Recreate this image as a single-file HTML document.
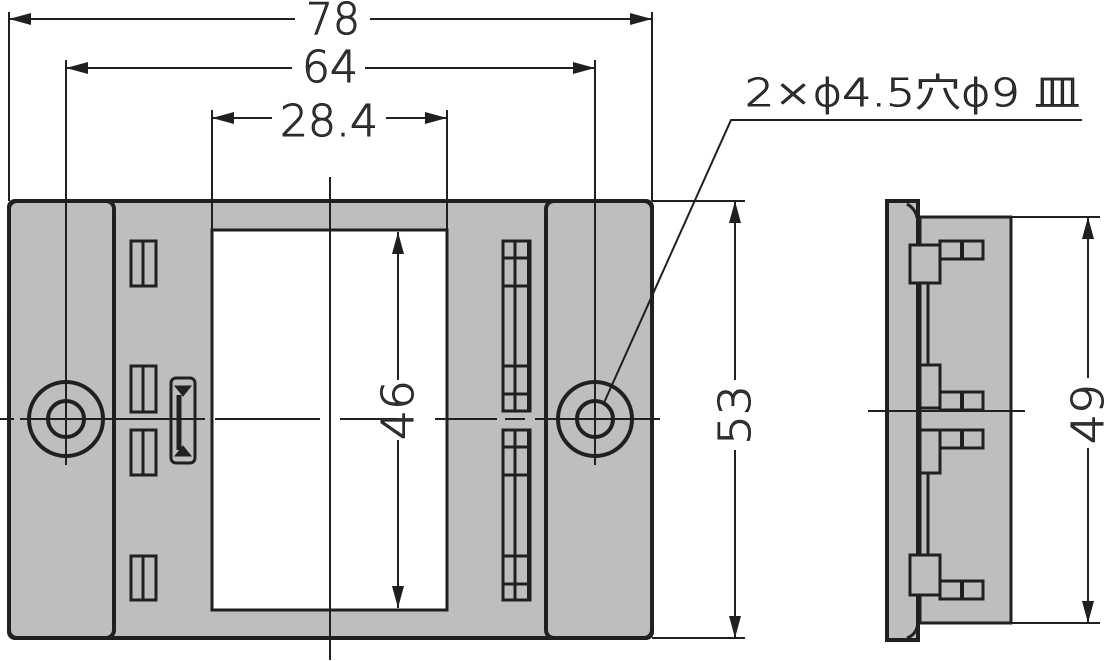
<!DOCTYPE html>
<html><head><meta charset="utf-8"><style>html,body{margin:0;padding:0;background:#fff}svg{display:block}</style></head>
<body>
<svg width="1111" height="661" viewBox="0 0 1111 661" xmlns="http://www.w3.org/2000/svg" font-family="Liberation Sans, sans-serif">
<defs>
<marker id="a" viewBox="0 0 22 12" refX="22" refY="6" markerWidth="22" markerHeight="12" markerUnits="userSpaceOnUse" orient="auto-start-reverse"><path d="M0,0 L22,6 L0,12 Z" fill="#231f20"/></marker>
</defs>
<g stroke="#231f20" fill="none">
<rect x="9" y="201" width="643" height="437" fill="#bcbec0" stroke-width="4" rx="6"/>
<rect x="9" y="201" width="105" height="437" rx="8" stroke-width="4"/>
<rect x="546" y="201" width="106" height="437" rx="8" stroke-width="4"/>
<rect x="212" y="230" width="235" height="380" fill="#fff" stroke-width="3"/>
<g stroke-width="3" fill="#bcbec0">
<rect x="131" y="241" width="25" height="45"/><line x1="143" y1="241" x2="143" y2="286"/>
<rect x="131" y="366" width="25" height="46"/><line x1="143" y1="366" x2="143" y2="412"/>
<rect x="131" y="430" width="25" height="45"/><line x1="143" y1="430" x2="143" y2="475"/>
<rect x="131" y="556" width="25" height="44"/><line x1="143" y1="556" x2="143" y2="600"/>
<rect x="171" y="378" width="24" height="85" rx="5"/>
<path d="M175,386 L191,386 L183,396 Z M175,456 L191,456 L183,446 Z" fill="#231f20" stroke-width="1"/>
<line x1="179" y1="395" x2="179" y2="450" stroke-width="5"/>
<rect x="503" y="241" width="27" height="170"/>
<rect x="503" y="430" width="27" height="170"/>
<line x1="515" y1="241" x2="515" y2="411"/><line x1="515" y1="430" x2="515" y2="600"/>
<line x1="503" y1="258" x2="527" y2="258"/><line x1="503" y1="286" x2="527" y2="286"/>
<line x1="503" y1="366" x2="527" y2="366"/><line x1="503" y1="394" x2="527" y2="394"/>
<line x1="503" y1="447" x2="527" y2="447"/><line x1="503" y1="475" x2="527" y2="475"/>
<line x1="503" y1="556" x2="527" y2="556"/><line x1="503" y1="584" x2="527" y2="584"/>
<line x1="529" y1="241" x2="529" y2="411" stroke-width="4"/><line x1="529" y1="430" x2="529" y2="600" stroke-width="4"/>
</g>
<g stroke-width="4">
<circle cx="66" cy="419" r="37"/><circle cx="66" cy="419" r="18"/>
<circle cx="595" cy="419" r="37"/><circle cx="595" cy="419" r="18"/>
</g>
<g stroke-width="2">
<line x1="0" y1="419" x2="14" y2="419"/><line x1="20" y1="419" x2="205" y2="419"/>
<line x1="215" y1="419" x2="320" y2="419"/><line x1="340" y1="419" x2="398" y2="419"/>
<line x1="435" y1="419" x2="497" y2="419"/><line x1="505" y1="419" x2="525" y2="419"/>
<line x1="535" y1="419" x2="660" y2="419"/>
<line x1="330" y1="177" x2="330" y2="660"/>
<line x1="66" y1="60" x2="66" y2="465"/>
<line x1="595" y1="60" x2="595" y2="465"/>
<line x1="9" y1="12" x2="9" y2="201"/><line x1="652" y1="12" x2="652" y2="201"/>
<line x1="212" y1="110" x2="212" y2="230"/><line x1="447" y1="110" x2="447" y2="230"/>
<line x1="652" y1="201" x2="745" y2="201"/><line x1="652" y1="638" x2="745" y2="638"/>
<line x1="9" y1="19" x2="295" y2="19" marker-start="url(#a)"/><line x1="370" y1="19" x2="652" y2="19" marker-end="url(#a)"/>
<line x1="66" y1="68" x2="292" y2="68" marker-start="url(#a)"/><line x1="365" y1="68" x2="595" y2="68" marker-end="url(#a)"/>
<line x1="212" y1="118" x2="272" y2="118" marker-start="url(#a)"/><line x1="386" y1="118" x2="447" y2="118" marker-end="url(#a)"/>
<line x1="398" y1="232" x2="398" y2="380" marker-start="url(#a)"/><line x1="398" y1="440" x2="398" y2="608" marker-end="url(#a)"/>
<line x1="735" y1="201" x2="735" y2="380" marker-start="url(#a)"/><line x1="735" y1="450" x2="735" y2="638" marker-end="url(#a)"/>
<line x1="1088" y1="217" x2="1088" y2="378" marker-start="url(#a)"/><line x1="1088" y1="448" x2="1088" y2="623" marker-end="url(#a)"/>
<line x1="1011" y1="217" x2="1100" y2="217"/><line x1="1011" y1="623" x2="1100" y2="623"/>
<polyline points="603,405 731,120 1082,120"/>
</g>
<g stroke="#231f20" stroke-width="3" fill="#bcbec0">
<rect x="920" y="217" width="91" height="406"/>
<path d="M887,201 L918,201 L918,640 L887,640 Z" stroke-width="4"/>
<path d="M907,204 Q918,210 918,225 L918,620 Q918,634 907,638" fill="none"/>
<rect x="910" y="245" width="30" height="38"/><rect x="940" y="241" width="43" height="18"/><line x1="962" y1="241" x2="962" y2="259" stroke-width="4"/>
<rect x="920" y="365" width="20" height="43"/><rect x="940" y="392" width="43" height="18"/><line x1="962" y1="392" x2="962" y2="410" stroke-width="4"/>
<rect x="920" y="430" width="20" height="43"/><rect x="940" y="430" width="43" height="18"/><line x1="962" y1="430" x2="962" y2="448" stroke-width="4"/>
<rect x="910" y="555" width="30" height="40"/><rect x="940" y="581" width="43" height="18"/><line x1="962" y1="581" x2="962" y2="599" stroke-width="4"/>
<line x1="928" y1="283" x2="928" y2="365"/>
<line x1="928" y1="473" x2="928" y2="555"/>
</g>
<line x1="868" y1="411" x2="1025" y2="411" stroke="#231f20" stroke-width="2"/>
<g fill="#3a3a3a" font-size="44" font-family="DejaVu Sans, Liberation Sans, sans-serif" font-weight="200">
<text x="333" y="34" text-anchor="middle" textLength="54" lengthAdjust="spacingAndGlyphs">78</text>
<text x="330" y="82" text-anchor="middle" textLength="56" lengthAdjust="spacingAndGlyphs">64</text>
<text x="329" y="136" text-anchor="middle" textLength="98" lengthAdjust="spacingAndGlyphs">28.4</text>
<text transform="translate(413,410) rotate(-90)" text-anchor="middle" textLength="60" lengthAdjust="spacingAndGlyphs">46</text>
<text transform="translate(750,415) rotate(-90)" text-anchor="middle" textLength="60" lengthAdjust="spacingAndGlyphs">53</text>
<text transform="translate(1103,414) rotate(-90)" text-anchor="middle" textLength="60" lengthAdjust="spacingAndGlyphs">49</text>
<text x="745" y="106" font-size="38" font-family="DejaVu Sans, Liberation Sans, Noto Sans CJK JP, sans-serif" textLength="335" lengthAdjust="spacingAndGlyphs">2×ϕ4.5穴ϕ9 皿</text>
</g>
</svg>
</body></html>
